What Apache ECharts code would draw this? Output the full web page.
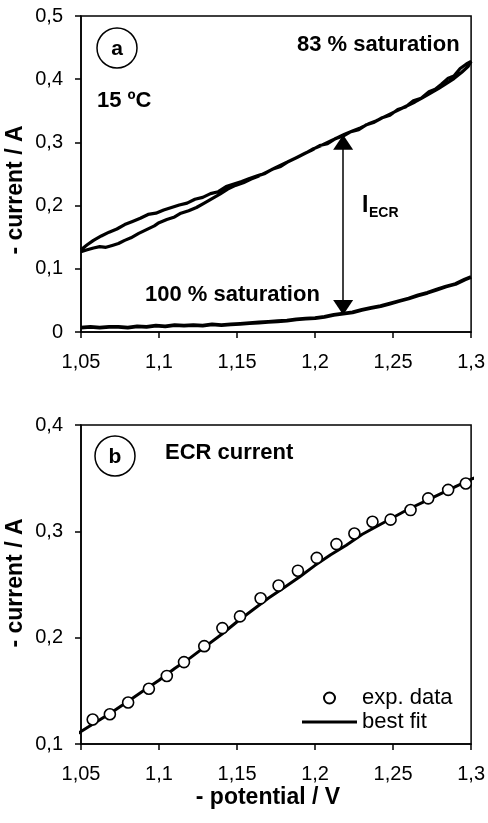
<!DOCTYPE html>
<html>
<head>
<meta charset="utf-8">
<script src="https://cdn.jsdelivr.net/npm/echarts@6/dist/echarts.min.js"></script>
<style>
html,body{margin:0;padding:0;background:#fff;}
#chart{width:488px;height:823px;}
</style>
</head>
<body>
<div id="chart"></div>
<script>
// ---- Panel a : 83 % saturation loop (forward scan then backward scan) ----
const loopForward = [
  [1.050,0.127],[1.054,0.130],[1.058,0.133],[1.062,0.135],[1.066,0.134],[1.070,0.137],
  [1.074,0.140],[1.078,0.145],[1.082,0.149],[1.087,0.156],[1.092,0.162],[1.097,0.168],
  [1.100,0.173],[1.105,0.178],[1.110,0.182],[1.114,0.188],[1.119,0.192],[1.124,0.197],
  [1.129,0.204],[1.134,0.211],[1.139,0.218],[1.144,0.226],[1.149,0.232],[1.154,0.236],
  [1.159,0.242],[1.164,0.247],[1.169,0.253],[1.174,0.259],[1.179,0.265],[1.184,0.271],
  [1.189,0.277],[1.194,0.283],[1.199,0.290],[1.204,0.295],[1.209,0.301],[1.214,0.307],
  [1.219,0.313],[1.224,0.318],[1.229,0.323],[1.234,0.329],[1.239,0.334],[1.244,0.340],
  [1.249,0.346],[1.254,0.352],[1.259,0.358],[1.264,0.364],[1.269,0.371],[1.274,0.378],
  [1.279,0.385],[1.284,0.393],[1.289,0.401],[1.294,0.411],[1.298,0.420],[1.300,0.428]
];
const loopBackward = [
  [1.300,0.430],[1.297,0.424],[1.293,0.417],[1.289,0.405],[1.285,0.401],[1.281,0.392],
  [1.277,0.384],[1.273,0.380],[1.268,0.370],[1.263,0.366],[1.258,0.356],[1.253,0.352],
  [1.248,0.343],[1.243,0.339],[1.238,0.332],[1.233,0.328],[1.228,0.320],[1.223,0.317],
  [1.218,0.310],[1.213,0.306],[1.208,0.298],[1.203,0.295],[1.198,0.288],[1.193,0.282],
  [1.188,0.276],[1.183,0.270],[1.178,0.262],[1.173,0.258],[1.168,0.251],[1.163,0.247],
  [1.158,0.243],[1.153,0.238],[1.148,0.234],[1.143,0.230],[1.138,0.222],[1.133,0.219],
  [1.128,0.213],[1.123,0.210],[1.118,0.204],[1.113,0.201],[1.108,0.197],[1.103,0.193],
  [1.098,0.188],[1.093,0.186],[1.088,0.180],[1.083,0.175],[1.078,0.170],[1.073,0.163],
  [1.068,0.158],[1.063,0.152],[1.058,0.145],[1.054,0.138],[1.050,0.130]
];
// ---- Panel a : 100 % saturation ----
const fullSat = [
  [1.050,0.007],[1.056,0.008],[1.062,0.007],[1.068,0.008],[1.074,0.008],[1.080,0.007],
  [1.086,0.009],[1.092,0.008],[1.098,0.010],[1.104,0.009],[1.110,0.011],[1.116,0.010],
  [1.122,0.011],[1.128,0.010],[1.134,0.012],[1.140,0.011],[1.146,0.012],[1.152,0.013],
  [1.158,0.014],[1.164,0.015],[1.170,0.016],[1.176,0.017],[1.182,0.018],[1.188,0.020],
  [1.194,0.021],[1.200,0.022],[1.206,0.024],[1.212,0.027],[1.218,0.029],[1.224,0.031],
  [1.230,0.035],[1.236,0.038],[1.242,0.041],[1.248,0.045],[1.254,0.049],[1.260,0.053],
  [1.266,0.058],[1.272,0.062],[1.278,0.067],[1.284,0.072],[1.290,0.076],[1.296,0.083],
  [1.300,0.087]
];
// I_ECR arrow end points (x, top, bottom)
const arrowX = 1.218;
const arrowTop = 0.312;
const arrowBottom = 0.027;

// ---- Panel b : ECR current ----
const expX = [1.0575,1.0685,1.0802,1.0935,1.105,1.116,1.129,1.1406,1.1519,1.1651,1.1766,
              1.189,1.2011,1.2137,1.2252,1.2368,1.2484,1.2612,1.2725,1.2853,1.2966];
const expY = [0.123,0.128,0.139,0.152,0.164,0.177,0.192,0.209,0.220,0.237,0.249,
              0.263,0.275,0.288,0.298,0.309,0.311,0.320,0.331,0.339,0.345];
const fitX = [1.047,1.06,1.07,1.08,1.09,1.10,1.11,1.12,1.13,1.14,1.15,1.16,1.17,1.18,
              1.19,1.20,1.21,1.22,1.23,1.24,1.25,1.26,1.27,1.28,1.29,1.30,1.305];
const fitY = [0.109,0.121,0.130,0.140,0.150,0.160,0.171,0.181,0.192,0.203,0.215,0.226,0.237,0.247,
              0.257,0.268,0.278,0.287,0.297,0.305,0.313,0.321,0.328,0.335,0.342,0.349,0.352];

// ticks
const xTicks = {min:1.05, max:1.3, interval:0.05};
const yTicksA = {min:0, max:0.5, interval:0.1};
const yTicksB = {min:0.1, max:0.4, interval:0.1};

const FONT = "'Liberation Sans', Arial, sans-serif";
const fmt = v => String(Math.round(v*100)/100).replace('.', ',');

function xAxisCfg(gi){
  return {
    type:'value', gridIndex:gi, min:xTicks.min, max:xTicks.max, interval:xTicks.interval,
    axisLine:{show:true, onZero:false, lineStyle:{color:'#000', width:1.5}},
    axisTick:{show:true, inside:false, length:6, lineStyle:{color:'#000', width:1.5}},
    axisLabel:{color:'#000', fontSize:20, fontFamily:FONT, margin:20, formatter:fmt},
    splitLine:{show:false}
  };
}
function yAxisCfg(gi, t){
  return {
    type:'value', gridIndex:gi, min:t.min, max:t.max, interval:t.interval,
    axisLine:{show:true, onZero:false, lineStyle:{color:'#000', width:1.5}},
    axisTick:{show:true, inside:false, length:6, lineStyle:{color:'#000', width:1.5}},
    axisLabel:{color:'#000', fontSize:20, fontFamily:FONT, margin:18, formatter:fmt},
    splitLine:{show:false}
  };
}

const chart = echarts.init(document.getElementById('chart'), null, {renderer:'canvas'});
const boldTxt = (x, y, text, size, extra) => Object.assign({
  type:'text', x:x, y:y, silent:true,
  style:{text:text, fill:'#000', font:'bold '+size+'px '+FONT, textAlign:'left', textVerticalAlign:'middle'}
}, extra||{});

chart.setOption({
  animation:false,
  backgroundColor:'#fff',
  grid:[
    {left:81, top:16, width:391, height:316, show:true, borderColor:'#000', borderWidth:1.5, backgroundColor:'transparent'},
    {left:81, top:425, width:391, height:319, show:true, borderColor:'#000', borderWidth:1.5, backgroundColor:'transparent'}
  ],
  xAxis:[xAxisCfg(0), xAxisCfg(1)],
  yAxis:[yAxisCfg(0, yTicksA), yAxisCfg(1, yTicksB)],
  legend:{
    data:[{name:'exp. data', icon:'circle'}, {name:'best fit', icon:'path://M0,0H55V3H0Z'}],
    orient:'vertical', left:302, top:687,
    itemWidth:55, itemHeight:11, itemGap:2, padding:0,
    textStyle:{color:'#000', fontSize:22, fontFamily:FONT}, selectedMode:false
  },
  series:[
    {type:'line', name:'83 %', xAxisIndex:0, yAxisIndex:0, data:loopForward.concat(loopBackward),
     symbol:'none', lineStyle:{color:'#000', width:3.2}, silent:true, clip:false},
    {type:'line', name:'100 %', xAxisIndex:0, yAxisIndex:0, data:fullSat,
     symbol:'none', lineStyle:{color:'#000', width:3.8}, silent:true,
     markLine:{
       silent:true, symbol:['triangle','triangle'], symbolSize:[20,15], symbolOffset:[[0,7.5],[0,7.5]],
       label:{show:false}, lineStyle:{color:'#000', width:1.5, type:'solid'},
       itemStyle:{color:'#000'},
       data:[[{coord:[arrowX, arrowTop]},{coord:[arrowX, arrowBottom]}]]
     }},
    {type:'line', name:'best fit', xAxisIndex:1, yAxisIndex:1,
     data:fitX.map((x,i)=>[x, fitY[i]]), symbol:'none', clip:false,
     lineStyle:{color:'#000', width:3}, itemStyle:{color:'#000'}, silent:true},
    {type:'scatter', name:'exp. data', xAxisIndex:1, yAxisIndex:1,
     data:expX.map((x,i)=>[x, expY[i]]), symbol:'circle', symbolSize:11,
     itemStyle:{color:'#fff', borderColor:'#000', borderWidth:1.6, opacity:1}, silent:true, z:5}
  ],
  graphic:[
    {type:'circle', shape:{cx:117, cy:48, r:20}, style:{fill:'none', stroke:'#000', lineWidth:1.5}, silent:true},
    {type:'text', x:117, y:49, silent:true, style:{text:'a', fill:'#000', font:'bold 21px '+FONT, textAlign:'center', textVerticalAlign:'middle'}},
    {type:'circle', shape:{cx:115, cy:456, r:20}, style:{fill:'none', stroke:'#000', lineWidth:1.5}, silent:true},
    {type:'text', x:115, y:457, silent:true, style:{text:'b', fill:'#000', font:'bold 21px '+FONT, textAlign:'center', textVerticalAlign:'middle'}},
    boldTxt(297, 45, '83 % saturation', 22),
    boldTxt(97, 101, '15 ºC', 22),
    boldTxt(145, 295, '100 % saturation', 22),
    boldTxt(362, 206, 'I', 23),
    boldTxt(369, 213, 'ECR', 14),
    boldTxt(165, 453, 'ECR current', 22),
    {type:'text', x:268, y:798, silent:true, style:{text:'- potential / V', fill:'#000', font:'bold 23px '+FONT, textAlign:'center', textVerticalAlign:'middle'}},
    {type:'text', x:16, y:190, rotation:Math.PI/2, silent:true, style:{text:'- current / A', fill:'#000', font:'bold 23px '+FONT, textAlign:'center', textVerticalAlign:'middle'}},
    {type:'text', x:16, y:583, rotation:Math.PI/2, silent:true, style:{text:'- current / A', fill:'#000', font:'bold 23px '+FONT, textAlign:'center', textVerticalAlign:'middle'}}
  ]
});
</script>
</body>
</html>
